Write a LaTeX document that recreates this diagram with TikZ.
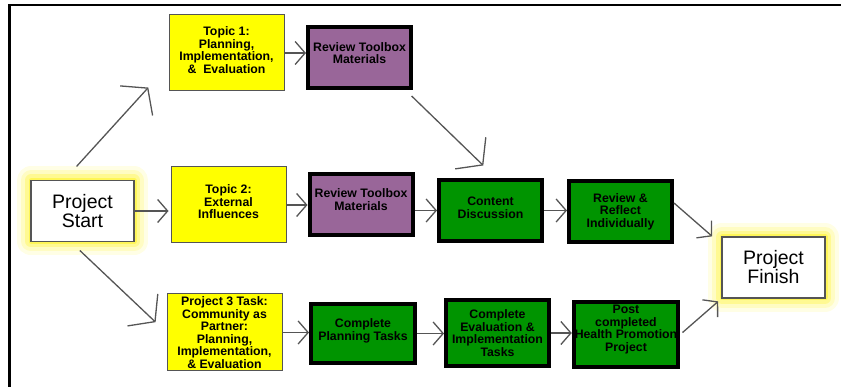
\documentclass[tikz,border=0pt]{standalone}
\usepackage{fontspec}
\setmainfont{Liberation Sans}
\usetikzlibrary{arrows.meta}
\definecolor{boxyellow}{RGB}{255,255,0}
\definecolor{boxpurple}{RGB}{153,102,153}
\definecolor{boxgreen}{RGB}{0,148,0}
\definecolor{edgegray}{RGB}{85,85,85}
\tikzset{
    boxfont/.style = {font=\bfseries\fontsize{12.3}{12.5}\selectfont},
    topicnode/.style = {rectangle, draw=edgegray, line width=1pt, fill=boxyellow, align=center, inner sep=1pt, minimum width=115pt, minimum height=76pt, boxfont},
    reviewnode/.style = {rectangle, draw=black, line width=4pt, fill=boxpurple, align=center, inner sep=1pt, minimum width=103pt, minimum height=61pt, boxfont},
    tasknode/.style = {rectangle, draw=black, line width=4pt, fill=boxgreen, align=center, inner sep=1pt, minimum width=103pt, minimum height=61pt, boxfont},
    endnode/.style = {rectangle, draw=edgegray, line width=1.5pt, fill=white, align=center, minimum width=103pt, minimum height=61pt, font=\fontsize{19.5}{19}\selectfont,
        preaction={draw=yellow, line width=28pt, opacity=0.10, line join=round},
        preaction={draw=yellow, line width=20pt, opacity=0.15, line join=round},
        preaction={draw=yellow, line width=12pt, opacity=0.25, line join=round},
        preaction={draw=yellow, line width=5pt, opacity=0.40, line join=round}},
    edgen/.style = {-{Straight Barb[length=10pt,width=23pt]}, line width=1.3pt, draw=edgegray}, % small head
    edgeb/.style = {-{Straight Barb[length=17pt,width=44pt]}, line width=1.3pt, draw=edgegray}, % big head
}
\begin{document}
\begin{tikzpicture}[x=1pt,y=-1pt]
\path[use as bounding box] (0,0) rectangle (841,387);
\draw[line width=2.2pt] (841,4.8) -- (9.5,4.8) -- (9.5,387);
%
\node[endnode] at (82.5,211) (start) {Project\\Start};
\node[endnode] at (773.5,267.5) (finish) {Project\\Finish};
%
\node[topicnode, text depth=6pt] at (226.5,53) (topic1) {Topic 1:\\Planning,\\Implementation,\\\&\ \ Evaluation};
\node[topicnode, text depth=6pt] at (228.5,205) (topic2) {Topic 2:\\External\\Influences};
\node[topicnode, minimum height=77pt] at (224.5,332.5) (task3) {Project 3 Task:\\Community as\\Partner:\\Planning,\\Implementation,\\\& Evaluation};
%
\node[reviewnode, text depth=10pt] at (359.5,58) (review1) {Review Toolbox\\Materials};
\node[reviewnode, text depth=10pt] at (361,204.5) (review2) {Review Toolbox\\Materials};
\node[tasknode, text depth=6pt] at (490.5,210.5) (content) {Content\\Discussion};
\node[tasknode] at (620.5,211.5) (reflect) {Review \&\\Reflect\\Individually};
%
\node[tasknode, minimum width=104pt, minimum height=59pt, text depth=8pt] at (363,333.5) (planning) {Complete\\Planning Tasks};
\node[tasknode, minimum height=66pt] at (497.5,333) (evaluation) {Complete\\Evaluation \&\\Implementation\\Tasks};
\node[tasknode, minimum width=102pt, minimum height=65pt, text depth=12pt] at (626,334.5) (post) {Post\\completed\\Health Promotion\\Project};
%
\draw[edgeb, shorten <=18pt, shorten >=30pt] (start.120) -- (topic1.192);
\draw[edgen, shorten >=2pt] (start.east) -- (start.east -| topic2.west);
\draw[edgeb, shorten <=12pt, shorten >=15pt] (start.250) -- (task3.west);
%
\draw[edgen] (topic1.east) -- (topic1.east -| review1.west);
\draw[edgeb, shorten <=8pt, shorten >=18pt] (review1.-35) -- (content.80);
\draw[edgen] (topic2.east) -- (topic2.east -| review2.west);
\draw[edgen] (content.west -| review2.east) -- (content.west);
\draw[edgen] (content.east) -- (content.east -| reflect.west);
\draw[edgen, shorten >=12pt] (reflect.9) -- (finish.156);
%
\draw[edgen] (task3.east) -- (task3.east -| planning.west);
\draw[edgen] (planning.east) -- (planning.east -| evaluation.west);
\draw[edgen] (evaluation.east) -- (evaluation.east -| post.west);
\draw[edgen, shorten <=3pt, shorten >=4pt] (post.east) -- (finish.south west);

\end{tikzpicture}
\end{document}
